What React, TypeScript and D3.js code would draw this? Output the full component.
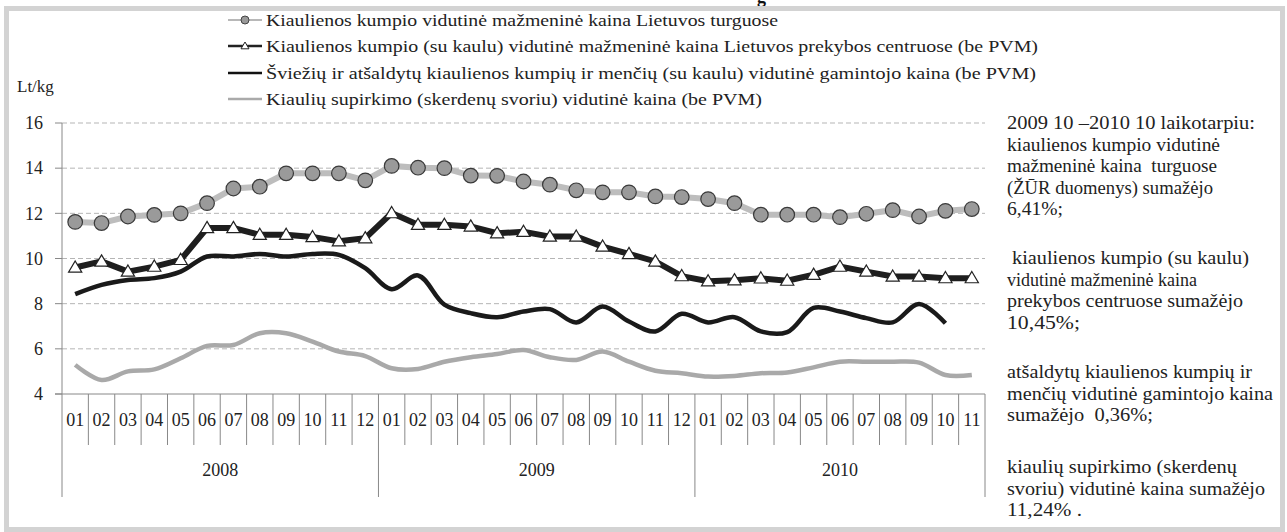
import React from 'react';
import * as d3 from 'd3';

// mėnesiai 2008 01 – 2010 11
const years = ['2008', '2009', '2010'];
const monthsPerYear = [12, 12, 11];
const monthLabels = ['01', '02', '03', '04', '05', '06', '07', '08', '09', '10', '11', '12'];

// Kiaulienos kumpio vidutinė mažmeninė kaina Lietuvos turguose
const marketPrice = [
  11.62, 11.57, 11.86, 11.93, 12.0, 12.45, 13.1, 13.18, 13.77, 13.77, 13.77, 13.46,
  14.1, 14.02, 14.0, 13.67, 13.66, 13.41, 13.27, 13.02, 12.93, 12.93, 12.75, 12.72,
  12.63, 12.45, 11.94, 11.94, 11.94, 11.83, 11.98, 12.14, 11.86, 12.11, 12.19,
];
// Kiaulienos kumpio (su kaulu) vidutinė mažmeninė kaina prekybos centruose
const retailPrice = [
  9.6, 9.87, 9.42, 9.64, 9.94, 11.35, 11.35, 11.05, 11.05, 10.95, 10.76, 10.9,
  12.01, 11.49, 11.49, 11.42, 11.12, 11.18, 10.97, 10.97, 10.53, 10.2, 9.87, 9.22,
  8.99, 9.04, 9.12, 9.02, 9.28, 9.64, 9.42, 9.2, 9.2, 9.13, 9.13,
];
// Šviežių ir atšaldytų kiaulienos kumpių ir menčių vidutinė gamintojo kaina
const producerPrice = [
  8.42, 8.83, 9.05, 9.13, 9.42, 10.09, 10.09, 10.2, 10.09, 10.2, 10.16, 9.57,
  8.64, 9.25, 7.96, 7.58, 7.4, 7.65, 7.76, 7.17, 7.87, 7.21, 6.77, 7.55,
  7.17, 7.4, 6.77, 6.74, 7.81, 7.65, 7.36, 7.17, 7.99, 7.13,
];
// Kiaulių supirkimo (skerdenų svoriu) vidutinė kaina
const purchasePrice = [
  5.29, 4.62, 5.0, 5.09, 5.58, 6.13, 6.17, 6.69, 6.69, 6.32, 5.88, 5.68,
  5.14, 5.11, 5.43, 5.63, 5.77, 5.95, 5.63, 5.51, 5.88, 5.43, 5.03, 4.92,
  4.77, 4.8, 4.92, 4.95, 5.18, 5.43, 5.43, 5.43, 5.39, 4.84, 4.84,
];
const yTicks = [4, 6, 8, 10, 12, 14, 16];

const legendLabels = [
  'Kiaulienos kumpio vidutinė mažmeninė kaina Lietuvos turguose',
  'Kiaulienos kumpio (su kaulu) vidutinė mažmeninė kaina Lietuvos prekybos centruose (be PVM)',
  'Šviežių ir atšaldytų kiaulienos kumpių ir menčių (su kaulu) vidutinė gamintojo kaina (be PVM)',
  'Kiaulių supirkimo (skerdenų svoriu) vidutinė kaina (be PVM)',
];

const notes = [
  ['2009 10 –2010 10 laikotarpiu:', 'kiaulienos kumpio vidutinė', 'mažmeninė kaina  turguose', '(ŽŪR duomenys) sumažėjo', '6,41%;'],
  [' kiaulienos kumpio (su kaulu)', 'vidutinė mažmeninė kaina', 'prekybos centruose sumažėjo', '10,45%;'],
  ['atšaldytų kiaulienos kumpių ir', 'menčių vidutinė gamintojo kaina', 'sumažėjo  0,36%;'],
  ['kiaulių supirkimo (skerdenų', 'svoriu) vidutinė kaina sumažėjo', '11,24% .'],
];

// layout: stretched text widths (the source uses a wide, loosely spaced serif)
const legendWidths = [512, 772, 770, 496];
const noteWidths = [
  [248, 213, 210, 206, 56],
  [242, 190, 236, 73],
  [245, 266, 146],
  [230, 258, 75],
];

const W = 1287, H = 532;
const font = '"Liberation Serif", "DejaVu Serif", serif';

export default function App() {
  const monthKeys: string[] = [];
  const monthText: string[] = [];
  years.forEach((yr, yi) => {
    for (let m = 0; m < monthsPerYear[yi]; m++) {
      monthKeys.push(yr + '-' + monthLabels[m]);
      monthText.push(monthLabels[m]);
    }
  });

  const x = d3.scaleBand().domain(monthKeys).range([62, 985]);
  const y = d3.scaleLinear().domain([4, 16]).range([394, 123]);
  const cx = (i: number) => (x(monthKeys[i]) as number) + x.bandwidth() / 2;

  const straight = d3.line<number>().x((d, i) => cx(i)).y(d => y(d)).curve(d3.curveLinear);
  const smooth = d3.line<number>().x((d, i) => cx(i)).y(d => y(d)).curve(d3.curveCatmullRom.alpha(0.5));

  const tri = (px: number, py: number, s = 6.6) =>
    `M${px},${py - s} L${px + s},${py + s * 0.7} L${px - s},${py + s * 0.7} Z`;

  // year boundaries
  let acc = 0;
  const yearStarts = monthsPerYear.map(n => { const s = acc; acc += n; return s; });
  const xLeft = x.range()[0], xRight = x.range()[1];
  const boundaryX = (i: number) => (i >= monthKeys.length ? xRight : (x(monthKeys[i]) as number));

  const legendY = [20, 46, 73, 99];
  const legX0 = 228, legX1 = 262;

  return (
    <svg width={W} height={H} style={{ position: 'absolute', left: 0, top: 0, background: '#fff' }} fontFamily={font}>
      <text x={757} y={3} fontSize={18} fontWeight="bold" fill="#111">g</text>
      <rect x={6.5} y={8.5} width={1276} height={521} fill="none" stroke="#d3d3d3" strokeWidth={5} />

      {/* legend */}
      {legendLabels.map((lab, i) => {
        const ly = legendY[i];
        return (
          <g key={lab}>
            {i === 0 && <line x1={legX0} x2={legX1} y1={ly} y2={ly} stroke="#b8b8b8" strokeWidth={2} />}
            {i === 0 && <circle cx={(legX0 + legX1) / 2} cy={ly} r={4} fill="#999" stroke="#444" strokeWidth={1} />}
            {i === 1 && <line x1={legX0} x2={legX1} y1={ly} y2={ly} stroke="#222" strokeWidth={2.5} />}
            {i === 1 && <path d={tri((legX0 + legX1) / 2, ly, 4)} fill="#fff" stroke="#222" strokeWidth={1} />}
            {i === 2 && <line x1={legX0} x2={legX1} y1={ly} y2={ly} stroke="#111" strokeWidth={2.5} />}
            {i === 3 && <line x1={legX0} x2={legX1} y1={ly} y2={ly} stroke="#aaa" strokeWidth={2.5} />}
            <text x={legX1 + 4} y={ly} dy="0.35em" fontSize={17} fill="#222"
              textLength={legendWidths[i]} lengthAdjust="spacingAndGlyphs">{lab}</text>
          </g>
        );
      })}

      <text x={17} y={86} dy="0.35em" fontSize={17} fill="#222">Lt/kg</text>

      {/* grid + y axis */}
      {yTicks.map(t => (
        <g key={t}>
          {t > 4 && <line x1={xLeft} x2={xRight} y1={y(t)} y2={y(t)} stroke="#b5b5b5" strokeDasharray="5,3" />}
          <line x1={55} x2={xLeft} y1={y(t)} y2={y(t)} stroke="#888" />
          <text x={43} y={y(t)} dy="0.35em" textAnchor="end" fontSize={18} fill="#222">{t}</text>
        </g>
      ))}
      <line x1={xLeft} x2={xLeft} y1={y(16)} y2={y(4)} stroke="#888" />
      <line x1={55} x2={xRight} y1={y(4)} y2={y(4)} stroke="#888" />

      {/* x axis: months and years */}
      {monthKeys.map((k, i) => (
        <g key={k}>
          {i > 0 && !yearStarts.includes(i) && (
            <line x1={boundaryX(i)} x2={boundaryX(i)} y1={y(4)} y2={445} stroke="#888" />
          )}
          <text x={cx(i)} y={420} dy="0.35em" textAnchor="middle" fontSize={18} fill="#222">{monthText[i]}</text>
        </g>
      ))}
      {[...yearStarts, monthKeys.length].map(i => (
        <line key={'yb' + i} x1={boundaryX(i)} x2={boundaryX(i)} y1={y(4)} y2={497} stroke="#888" />
      ))}
      {years.map((yr, yi) => {
        const a = boundaryX(yearStarts[yi]);
        const b = boundaryX(yearStarts[yi] + monthsPerYear[yi]);
        return (
          <text key={yr} x={(a + b) / 2} y={470} dy="0.35em" textAnchor="middle" fontSize={18} fill="#222">{yr}</text>
        );
      })}

      {/* series */}
      <path d={smooth(purchasePrice) || ''} fill="none" stroke="#a9a9a9" strokeWidth={4.5} />
      <path d={smooth(producerPrice) || ''} fill="none" stroke="#1a1a1a" strokeWidth={4.5} />
      <path d={straight(retailPrice) || ''} fill="none" stroke="#1e1e1e" strokeWidth={6} />
      {retailPrice.map((v, i) => (
        <path key={'t' + i} d={tri(cx(i), y(v))} fill="#fff" stroke="#222" strokeWidth={1.2} />
      ))}
      <path d={straight(marketPrice) || ''} fill="none" stroke="#bdbdbd" strokeWidth={6} />
      {marketPrice.map((v, i) => (
        <circle key={'c' + i} cx={cx(i)} cy={y(v)} r={7.3} fill="#9a9a9a" stroke="#3a3a3a" strokeWidth={1.2} />
      ))}

      {/* notes on the right */}
      {(() => {
        const starts = [123, 258, 372, 467];
        return notes.map((block, bi) =>
          block.map((ln, li) => (
            <text key={bi + '-' + li} x={1007} y={starts[bi] + li * 21.4} dy="0.35em" fontSize={18} fill="#222"
              style={{ whiteSpace: 'pre' }} textLength={noteWidths[bi][li]} lengthAdjust="spacingAndGlyphs">
              {ln}
            </text>
          ))
        );
      })()}
    </svg>
  );
}
